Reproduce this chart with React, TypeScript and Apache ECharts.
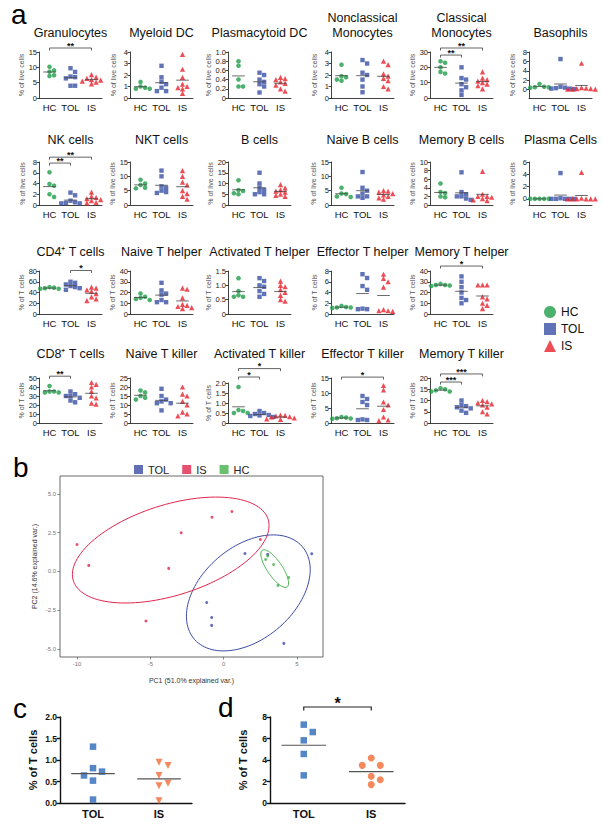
import React, { useEffect, useRef } from 'react';
import * as echarts from 'echarts';

const FONT = '"Liberation Sans", Arial, Helvetica, sans-serif';
const groups = ['HC', 'TOL', 'IS'];

// ---------- panel a data ----------
const granulocytesHC = [10.2, 9.0, 8.6, 7.4, 7.2];
const granulocytesTOL = [9.7, 8.5, 7.0, 6.8, 6.4, 4.0, 4.0];
const granulocytesIS = [7.6, 6.8, 6.4, 6.0, 5.8, 5.5, 5.2, 4.6];
const granulocytesSig: [number, number, number, string][] = [[0, 2, 16.3, '**']];

const myeloidHC = [1.4, 1.0, 0.9, 0.8, 0.8];
const myeloidTOL = [2.8, 1.8, 1.4, 1.2, 0.9, 0.6, 0.6];
const myeloidIS = [3.8, 2.5, 1.8, 1.2, 1.0, 0.9, 0.8, 0.4];

const plasmacytoidHC = [0.8, 0.7, 0.4, 0.25, 0.25];
const plasmacytoidTOL = [0.55, 0.5, 0.4, 0.35, 0.3, 0.25, 0.12];
const plasmacytoidIS = [0.45, 0.42, 0.4, 0.35, 0.32, 0.28, 0.2, 0.15];

const nonclassicalHC = [2.9, 1.9, 1.8, 1.6, 1.5];
const nonclassicalTOL = [3.3, 3.0, 2.2, 2.0, 1.6, 1.0, 0.5];
const nonclassicalIS = [3.2, 2.9, 2.1, 1.9, 1.7, 1.5, 1.0, 0.8];

const classicalHC = [24, 23, 20, 17, 16];
const classicalTOL = [20, 13, 12, 9, 7, 5, 2];
const classicalIS = [17, 13, 12, 11, 10, 9, 8, 6];
const classicalSig: [number, number, number, string][] = [[0, 1, 28, '**'], [0, 2, 32.6, '**']];

const basophilsHC = [1.2, 0.6, 0.5, 0.5, 0.4];
const basophilsTOL = [6.5, 0.6, 0.4, 0.3, 0.2, 0.2, 0.1];
const basophilsIS = [5.6, 0.4, 0.3, 0.2, 0.2, 0.1, 0.1, 0.1];

const nkHC = [6.1, 3.9, 3.6, 2.0, 1.5];
const nkTOL = [2.3, 1.8, 0.8, 0.5, 0.4, 0.3, 0.3];
const nkIS = [2.4, 1.6, 1.4, 1.2, 1.0, 0.8, 0.5, 0.4];
const nkSig: [number, number, number, string][] = [[0, 1, 7.8, '**'], [0, 2, 8.9, '**']];

const nktHC = [8.8, 7.5, 7.0, 6.0, 5.8];
const nktTOL = [12, 10, 6.5, 6, 5, 4.5, 4.2];
const nktIS = [12, 10, 8, 7, 5, 4, 3, 2];

const bHC = [11.5, 7, 6.5, 5.5, 5];
const bTOL = [15, 10, 8, 7, 6, 5, 5];
const bIS = [9.5, 8, 7, 6.5, 6, 5, 4.5, 4];

const naiveBHC = [6, 4, 3.8, 3, 2.8];
const naiveBTOL = [11.5, 6, 5, 4, 3, 3, 2.5];
const naiveBIS = [5, 4.8, 4.5, 4, 3.5, 3, 2.5, 2];

const memoryBHC = [5, 3, 2.8, 2, 1.8];
const memoryBTOL = [7.6, 3, 2.5, 2, 2, 1.5, 1.2];
const memoryBIS = [7.8, 2.5, 2, 2, 1.8, 1.5, 1.2, 1.0];

const plasmaHC = [0, 0, 0, 0, 0];
const plasmaTOL = [4.2, 0.1, 0, 0, 0, 0, 0];
const plasmaIS = [4.3, 0.1, 0, 0, 0, 0, 0, 0];

const cd4HC = [50, 49, 48, 47, 47];
const cd4TOL = [60, 58, 55, 52, 50, 48, 45];
const cd4IS = [50, 48, 45, 42, 38, 32, 28, 25];
const cd4Sig: [number, number, number, string][] = [[1, 2, 81, '*']];

const naiveTHHC = [19, 16, 15, 14, 13];
const naiveTHTOL = [29, 22, 19, 18, 13, 11, 11];
const naiveTHIS = [24, 23, 15, 9, 8, 7, 6, 5];

const actTHHC = [1.25, 0.8, 0.65, 0.6, 0.6];
const actTHTOL = [1.25, 1.15, 1.0, 0.95, 0.8, 0.7, 0.6];
const actTHIS = [1.15, 1.0, 0.95, 0.85, 0.75, 0.65, 0.5, 0.45];

const effTHHC = [1.5, 1.3, 1.2, 1.2, 1.1];
const effTHTOL = [7.4, 6.7, 5.2, 4.5, 1.0, 0.9, 0.9];
const effTHIS = [7.4, 6.6, 6.0, 5.0, 0.8, 0.6, 0.6, 0.5];

const memTHHC = [28, 27, 27, 26.5, 26];
const memTHTOL = [35, 30, 25, 20, 15, 13, 10];
const memTHIS = [27, 27, 27, 16, 14, 10, 8, 5];
const memTHSig: [number, number, number, string][] = [[0, 2, 44.6, '*']];

const cd8HC = [41, 35, 35, 34, 34];
const cd8TOL = [35, 32, 30, 30, 28, 25, 23];
const cd8IS = [45, 43, 40, 35, 30, 28, 22, 21];
const cd8Sig: [number, number, number, string][] = [[0, 1, 52, '**']];

const naiveTKHC = [18, 17, 15, 14, 13];
const naiveTKTOL = [19, 15, 13, 12, 11, 11, 7];
const naiveTKIS = [20, 16, 15, 12, 10, 6, 5, 4];

const actTKHC = [1.8, 0.65, 0.6, 0.5, 0.5];
const actTKTOL = [0.6, 0.5, 0.45, 0.4, 0.38, 0.35, 0.3];
const actTKIS = [0.4, 0.38, 0.35, 0.32, 0.3, 0.25, 0.2, 0.18];
const actTKSig: [number, number, number, string][] = [[0, 1, 2.3, '*'], [0, 2, 2.72, '*']];

const effTKHC = [2, 1.8, 1.6, 1.5, 1.4];
const effTKTOL = [9, 8, 7, 6, 1.2, 1.0, 1.0];
const effTKIS = [12.5, 11, 7, 6, 4.5, 2, 1, 0.8];
const effTKSig: [number, number, number, string][] = [[0, 2, 15.3, '*']];

const memTKHC = [15.5, 15, 14.5, 14, 14];
const memTKTOL = [10, 8, 7.5, 7, 6.5, 5.5, 4.5];
const memTKIS = [10, 9.5, 9, 8.5, 8, 7, 5, 4];
const memTKSig: [number, number, number, string][] = [[0, 1, 18.2, '***'], [0, 2, 21.8, '***']];

// ---------- panel b (PCA) data ----------
const pcaTOLx = [1.45, 6.0, 3.0, -1.16, -0.82, -0.82, 4.1];
const pcaTOLy = [1.16, 1.14, 1.1, -2.0, -2.97, -3.48, -4.64];
const pcaISx = [-10.0, -9.2, -2.9, -0.8, 0.56, 2.5, -5.3, -3.75];
const pcaISy = [1.74, 0.39, 2.5, 3.5, 3.87, 2.06, -3.2, 0.2];
const pcaHCx = [2.86, 3.4, 4.43, 3.0, 3.7];
const pcaHCy = [0.77, 0.45, -0.39, 1.0, -0.9];

// ---------- panel c / d data ----------
const cGroups = ['TOL', 'IS'];
const cTOL = [1.31, 0.81, 0.73, 0.64, 0.52, 0.08];
const cIS = [0.95, 0.87, 0.64, 0.46, 0.40, 0.05];
const dTOL = [7.29, 6.6, 5.83, 4.56, 2.57];
const dIS = [4.19, 3.5, 3.5, 2.48, 2.17, 1.71];
const dSig: [number, number, number, string][] = [[0, 1, 8.93, '*']];

type Sig = [number, number, number, string][];
interface Panel {
  title: string; col: number; row: number; min: number; max: number;
  step?: number; ticks?: number[]; dec: number; unit: 'live' | 'T';
  hc: number[]; tol: number[]; is: number[]; sig: Sig; top?: number;
}

const panels: Panel[] = [
  { title: 'Granulocytes', col: 0, row: 0, min: 0, max: 15, step: 5, dec: 0, unit: 'live', hc: granulocytesHC, tol: granulocytesTOL, is: granulocytesIS, sig: granulocytesSig },
  { title: 'Myeloid DC', col: 1, row: 0, min: 0, max: 4, step: 1, dec: 0, unit: 'live', hc: myeloidHC, tol: myeloidTOL, is: myeloidIS, sig: [] },
  { title: 'Plasmacytoid DC', col: 2, row: 0, min: 0, max: 1, step: 0.2, dec: 1, unit: 'live', hc: plasmacytoidHC, tol: plasmacytoidTOL, is: plasmacytoidIS, sig: [] },
  { title: 'Nonclassical\nMonocytes', col: 3, row: 0, min: 0, max: 4, step: 1, dec: 0, unit: 'live', hc: nonclassicalHC, tol: nonclassicalTOL, is: nonclassicalIS, sig: [] },
  { title: 'Classical\nMonocytes', col: 4, row: 0, min: 0, max: 30, step: 10, dec: 0, unit: 'live', hc: classicalHC, tol: classicalTOL, is: classicalIS, sig: classicalSig },
  { title: 'Basophils', col: 5, row: 0, min: -1.8, max: 8, ticks: [0, 2, 4, 6, 8], dec: 0, unit: 'live', hc: basophilsHC, tol: basophilsTOL, is: basophilsIS, sig: [] },
  { title: 'NK cells', col: 0, row: 1, min: 0, max: 8, step: 2, dec: 0, unit: 'live', hc: nkHC, tol: nkTOL, is: nkIS, sig: nkSig },
  { title: 'NKT cells', col: 1, row: 1, min: 0, max: 15, step: 5, dec: 0, unit: 'live', hc: nktHC, tol: nktTOL, is: nktIS, sig: [] },
  { title: 'B cells', col: 2, row: 1, min: 0, max: 20, step: 5, dec: 0, unit: 'live', hc: bHC, tol: bTOL, is: bIS, sig: [] },
  { title: 'Naive B cells', col: 3, row: 1, min: 0, max: 15, step: 5, dec: 0, unit: 'live', hc: naiveBHC, tol: naiveBTOL, is: naiveBIS, sig: [] },
  { title: 'Memory B cells', col: 4, row: 1, min: 0, max: 10, step: 2, dec: 0, unit: 'live', hc: memoryBHC, tol: memoryBTOL, is: memoryBIS, sig: [] },
  { title: 'Plasma Cells', col: 5, row: 1, min: -1, max: 6, ticks: [0, 2, 4, 6], dec: 0, unit: 'live', hc: plasmaHC, tol: plasmaTOL, is: plasmaIS, sig: [] },
  { title: 'CD4\u207A T cells', col: 0, row: 2, min: 0, max: 80, step: 20, dec: 0, unit: 'T', hc: cd4HC, tol: cd4TOL, is: cd4IS, sig: cd4Sig },
  { title: 'Naive T helper', col: 1, row: 2, min: 0, max: 40, step: 10, dec: 0, unit: 'T', hc: naiveTHHC, tol: naiveTHTOL, is: naiveTHIS, sig: [] },
  { title: 'Activated T helper', col: 2, row: 2, min: 0, max: 1.5, step: 0.5, dec: 1, unit: 'T', hc: actTHHC, tol: actTHTOL, is: actTHIS, sig: [] },
  { title: 'Effector T helper', col: 3, row: 2, min: 0, max: 8, step: 2, dec: 0, unit: 'T', hc: effTHHC, tol: effTHTOL, is: effTHIS, sig: [] },
  { title: 'Memory T helper', col: 4, row: 2, min: 0, max: 40, step: 10, dec: 0, unit: 'T', hc: memTHHC, tol: memTHTOL, is: memTHIS, sig: memTHSig },
  { title: 'CD8\u207A T cells', col: 0, row: 3, min: 0, max: 50, step: 10, dec: 0, unit: 'T', hc: cd8HC, tol: cd8TOL, is: cd8IS, sig: cd8Sig },
  { title: 'Naive T killer', col: 1, row: 3, min: 0, max: 25, step: 5, dec: 0, unit: 'T', hc: naiveTKHC, tol: naiveTKTOL, is: naiveTKIS, sig: [] },
  { title: 'Activated T killer', col: 2, row: 3, min: 0, max: 2, step: 0.5, dec: 1, unit: 'T', hc: actTKHC, tol: actTKTOL, is: actTKIS, sig: actTKSig, top: 383 },
  { title: 'Effector T killer', col: 3, row: 3, min: 0, max: 15, step: 5, dec: 0, unit: 'T', hc: effTKHC, tol: effTKTOL, is: effTKIS, sig: effTKSig },
  { title: 'Memory T killer', col: 4, row: 3, min: 0, max: 20, step: 5, dec: 0, unit: 'T', hc: memTKHC, tol: memTKTOL, is: memTKIS, sig: memTKSig },
];

// ---------- layout / style ----------
const colX = [39, 130, 228, 331, 430, 529];
const rowTop = [52, 162, 271, 378];
const rowBottom = [98, 205, 314, 423];
const plotW = 63;
const titleY = [33, 140, 252, 354];
const COLORS = ['#1f9e48', '#3a50a5', '#e8202a'];
const SYMS = ['circle', 'rect', 'triangle'];
const SIZES = [4.6, 4.4, 5.2];
const PCA_COL = { TOL: '#3b4aa3', IS: '#e0264c', HC: '#43b14b' };
const C_BLUE = '#2a68b8';
const C_ORANGE = '#f26a33';

const mean = (a: number[]) => a.reduce((s, v) => s + v, 0) / a.length;

function swarm(vals: number[], pxPerUnit: number, size: number, step: number): number[] {
  const placed: { y: number; x: number }[] = [];
  return vals.map((v) => {
    const y = v * pxPerUnit;
    const cands = [0];
    for (let k = 1; k < 8; k++) cands.push(k * step, -k * step);
    for (const c of cands) {
      if (!placed.some((p) => Math.abs(p.y - y) < size && Math.abs(p.x - c) < step * 0.9)) {
        placed.push({ y, x: c });
        return c;
      }
    }
    placed.push({ y, x: 0 });
    return 0;
  });
}

function ellipse(xs: number[], ys: number[]): number[][] {
  const n = xs.length;
  const mx = mean(xs), my = mean(ys);
  let sxx = 0, syy = 0, sxy = 0;
  for (let i = 0; i < n; i++) {
    sxx += (xs[i] - mx) ** 2;
    syy += (ys[i] - my) ** 2;
    sxy += (xs[i] - mx) * (ys[i] - my);
  }
  sxx /= n - 1; syy /= n - 1; sxy /= n - 1;
  const a = Math.sqrt(sxx), b = sxy / a, c = Math.sqrt(Math.max(syy - b * b, 0));
  const r = Math.sqrt(-2 * Math.log(1 - 0.68));
  const pts: number[][] = [];
  for (let k = 0; k <= 120; k++) {
    const t = (k / 120) * Math.PI * 2;
    pts.push([mx + r * a * Math.cos(t), my + r * (b * Math.cos(t) + c * Math.sin(t))]);
  }
  return pts;
}

function meanLineSeries(xi: number, means: number[], color: string, frac: number, lw: number) {
  return {
    type: 'custom', xAxisIndex: xi, yAxisIndex: xi, silent: true, z: 4, clip: false,
    data: means.map((m, g) => [g, m]),
    renderItem: (_p: any, api: any) => {
      const pt = api.coord([api.value(0), api.value(1)]);
      const hw = api.size([1, 0])[0] * frac;
      return { type: 'line', shape: { x1: pt[0] - hw, y1: pt[1], x2: pt[0] + hw, y2: pt[1] }, style: { stroke: color, lineWidth: lw } };
    },
  };
}

function bracketSeries(xi: number, sig: Sig, tick: number, lw: number, fs: number) {
  return {
    type: 'custom', xAxisIndex: xi, yAxisIndex: xi, silent: true, z: 5, clip: false,
    data: sig.map((s) => [s[0], s[1], s[2]]),
    renderItem: (params: any, api: any) => {
      const s = sig[params.dataIndex];
      const a = api.coord([s[0], s[2]]);
      const b = api.coord([s[1], s[2]]);
      return {
        type: 'group',
        children: [
          { type: 'polyline', shape: { points: [[a[0], a[1] + tick], [a[0], a[1]], [b[0], b[1]], [b[0], b[1] + tick]] }, style: { stroke: '#222', fill: null, lineWidth: lw } },
          { type: 'text', x: (a[0] + b[0]) / 2, y: a[1] + fs * 0.25, style: { text: s[3], fontSize: fs, fontWeight: 'bold', fontFamily: FONT, align: 'center', verticalAlign: 'bottom', fill: '#111' } },
        ],
      };
    },
  };
}

function buildOption() {
  const grid: any[] = [], xAxis: any[] = [], yAxis: any[] = [], series: any[] = [], graphic: any[] = [];

  panels.forEach((p, i) => {
    const left = colX[p.col];
    const top = p.top ?? rowTop[p.row];
    const h = rowBottom[p.row] - top;
    grid.push({ left, top, width: plotW, height: h });
    xAxis.push({
      type: 'category', gridIndex: i, data: groups,
      axisLine: { onZero: false, lineStyle: { color: '#111', width: 0.8 } }, axisTick: { show: false },
      axisLabel: { fontSize: 9.5, color: '#111', margin: 4, fontFamily: FONT, interval: 0 },
    });
    const fmt = (v: number) => (Math.abs(v) < 1e-9 ? '0' : v.toFixed(p.dec));
    const yA: any = {
      type: 'value', gridIndex: i, min: p.min, max: p.max,
      name: p.unit === 'live' ? '% of live cells' : '% of T cells',
      nameLocation: 'middle', nameGap: 13,
      nameTextStyle: { fontSize: 7, color: '#555', fontFamily: FONT },
      axisLine: { show: true, onZero: false, lineStyle: { color: '#111', width: 0.8 } },
      axisTick: { show: true, length: 2.5, lineStyle: { color: '#111', width: 0.8 } },
      splitLine: { show: false },
      axisLabel: { fontSize: 7.5, color: '#222', margin: 2, fontFamily: FONT, formatter: fmt },
    };
    if (p.ticks) {
      yA.axisLabel.customValues = p.ticks;
      yA.axisTick.customValues = p.ticks;
    } else {
      yA.interval = p.step;
    }
    yAxis.push(yA);
    const pxPer = h / (p.max - p.min);
    [p.hc, p.tol, p.is].forEach((vals, g) => {
      const offs = swarm(vals, pxPer, 4.2, 4.6);
      series.push({
        type: 'scatter', name: groups[g], xAxisIndex: i, yAxisIndex: i, silent: true, z: 3,
        symbol: SYMS[g], symbolSize: SIZES[g], itemStyle: { color: COLORS[g] },
        data: vals.map((v, k) => ({ value: [g, v], symbolOffset: [offs[k], 0] })),
      });
    });
    series.push(meanLineSeries(i, [mean(p.hc), mean(p.tol), mean(p.is)], '#444', 0.3, 0.8));
    if (p.sig.length) series.push(bracketSeries(i, p.sig, 2.5, 0.7, 9));

    graphic.push({
      type: 'text', x: left + plotW / 2, y: titleY[p.row] + 7, silent: true,
      style: { text: p.title, fontSize: 12.5, lineHeight: 15, fontFamily: FONT, fill: '#111', align: 'center', verticalAlign: 'bottom' },
    });
  });

  // ---------- panel b ----------
  const bi = panels.length;
  grid.push({ left: 60, top: 476, width: 263, height: 181, show: true, borderColor: '#6b6b6b', borderWidth: 1, backgroundColor: '#fff' });
  xAxis.push({
    type: 'value', gridIndex: bi, min: -11.16, max: 6.77,
    name: 'PC1 (51.0% explained var.)', nameLocation: 'middle', nameGap: 20,
    nameTextStyle: { fontSize: 7, color: '#333', fontFamily: FONT },
    axisLine: { show: false, onZero: false }, splitLine: { show: false },
    axisTick: { show: true, length: 2.5, customValues: [-10, -5, 0, 5], lineStyle: { color: '#555', width: 0.7 } },
    axisLabel: { customValues: [-10, -5, 0, 5], fontSize: 6, color: '#777', margin: 4, fontFamily: FONT },
  });
  yAxis.push({
    type: 'value', gridIndex: bi, min: -5.52, max: 6.16,
    name: 'PC2 (14.6% explained var.)', nameLocation: 'middle', nameGap: 22,
    nameTextStyle: { fontSize: 7, color: '#333', fontFamily: FONT },
    axisLine: { show: false, onZero: false }, splitLine: { show: false },
    axisTick: { show: true, length: 2.5, customValues: [-5, -2.5, 0, 2.5, 5], lineStyle: { color: '#555', width: 0.7 } },
    axisLabel: { customValues: [-5, -2.5, 0, 2.5, 5], fontSize: 6, color: '#777', margin: 4, fontFamily: FONT, formatter: (v: number) => v.toFixed(1) },
  });
  const pcaSets: [string, number[], number[]][] = [['TOL', pcaTOLx, pcaTOLy], ['IS', pcaISx, pcaISy], ['HC', pcaHCx, pcaHCy]];
  pcaSets.forEach(([nm, xs, ys]) => {
    const col = (PCA_COL as any)[nm];
    series.push({
      type: 'line', name: 'ell_' + nm, xAxisIndex: bi, yAxisIndex: bi, silent: true, showSymbol: false, symbol: 'none',
      data: ellipse(xs, ys), lineStyle: { color: col, width: 1 }, z: 2,
    });
  });
  pcaSets.forEach(([nm, xs, ys]) => {
    const col = (PCA_COL as any)[nm];
    series.push({
      type: 'scatter', name: 'pca_' + nm, xAxisIndex: bi, yAxisIndex: bi, silent: true,
      symbol: 'circle', symbolSize: 3, itemStyle: { color: col }, z: 3,
      data: xs.map((x, k) => [x, ys[k]]),
    });
  });

  // ---------- panels c and d ----------
  const cdSpecs = [
    { left: 60, width: 132, max: 2, step: 0.5, dec: 1, tol: cTOL, is: cIS, isSym: 'triangle', isRot: 180, sig: [] as Sig },
    { left: 270, width: 135, max: 8, step: 2, dec: 0, tol: dTOL, is: dIS, isSym: 'circle', isRot: 0, sig: dSig },
  ];
  cdSpecs.forEach((s, j) => {
    const xi = bi + 1 + j;
    const top = 717, h = 86;
    grid.push({ left: s.left, top, width: s.width, height: h });
    xAxis.push({
      type: 'category', gridIndex: xi, data: cGroups,
      axisLine: { onZero: false, lineStyle: { color: '#111', width: 1.4 } }, axisTick: { show: false },
      axisLabel: { fontSize: 11, fontWeight: 'bold', color: '#111', margin: 5, fontFamily: FONT, interval: 0 },
    });
    yAxis.push({
      type: 'value', gridIndex: xi, min: 0, max: s.max, interval: s.step,
      name: '% of T cells', nameLocation: 'middle', nameGap: 22,
      nameTextStyle: { fontSize: 11, fontWeight: 'bold', color: '#111', fontFamily: FONT },
      axisLine: { show: true, onZero: false, lineStyle: { color: '#111', width: 1.4 } },
      axisTick: { show: true, length: 3.5, lineStyle: { color: '#111', width: 1.4 } },
      splitLine: { show: false },
      axisLabel: { fontSize: 8.5, fontWeight: 'bold', color: '#111', margin: 3, fontFamily: FONT, formatter: (v: number) => v.toFixed(s.dec) },
    });
    const pxPer = h / s.max;
    const offT = swarm(s.tol, pxPer, 8, 9);
    const offI = swarm(s.is, pxPer, 8, 9);
    series.push({
      type: 'scatter', name: 'cd_TOL', xAxisIndex: xi, yAxisIndex: xi, silent: true, z: 3,
      symbol: 'rect', symbolSize: 6.5, itemStyle: { color: C_BLUE },
      data: s.tol.map((v, k) => ({ value: [0, v], symbolOffset: [offT[k], 0] })),
    });
    series.push({
      type: 'scatter', name: 'cd_IS', xAxisIndex: xi, yAxisIndex: xi, silent: true, z: 3,
      symbol: s.isSym, symbolRotate: s.isRot, symbolSize: 7, itemStyle: { color: C_ORANGE },
      data: s.is.map((v, k) => ({ value: [1, v], symbolOffset: [offI[k], 0] })),
    });
    series.push(meanLineSeries(xi, [mean(s.tol), mean(s.is)], '#555', 0.33, 1.2));
    if (s.sig.length) series.push(bracketSeries(xi, s.sig, 3.5, 1.2, 16));
  });

  // panel letters
  const letters: [string, number, number][] = [['a', 11, 14], ['b', 13, 467], ['c', 13, 708], ['d', 218, 707]];
  letters.forEach(([t, x, y]) => {
    graphic.push({ type: 'text', x, y, silent: true, style: { text: t, fontSize: 28, fontFamily: FONT, fill: '#000', verticalAlign: 'middle' } });
  });

  return {
    animation: false,
    backgroundColor: '#fff',
    grid, xAxis, yAxis, series, graphic,
    legend: [
      {
        data: groups, orient: 'vertical', left: 539, top: 301, itemWidth: 12, itemHeight: 12, itemGap: 5,
        selectedMode: false, textStyle: { fontSize: 12, color: '#111', fontFamily: FONT },
      },
      {
        data: ['pca_TOL', 'pca_IS', 'pca_HC'], orient: 'horizontal', left: 129, top: 459,
        itemWidth: 9, itemHeight: 9, itemGap: 13, icon: 'rect', selectedMode: false,
        formatter: (n: string) => n.replace('pca_', ''),
        textStyle: { fontSize: 11, color: '#222', fontFamily: FONT },
      },
    ],
  };
}

export default function App() {
  const ref = useRef<HTMLDivElement>(null);
  useEffect(() => {
    document.body.style.margin = '0';
    if (!ref.current) return;
    const chart = echarts.init(ref.current, null, { renderer: 'svg' });
    chart.setOption(buildOption() as any);
    return () => chart.dispose();
  }, []);
  return <div ref={ref} style={{ width: 602, height: 826 }} />;
}
